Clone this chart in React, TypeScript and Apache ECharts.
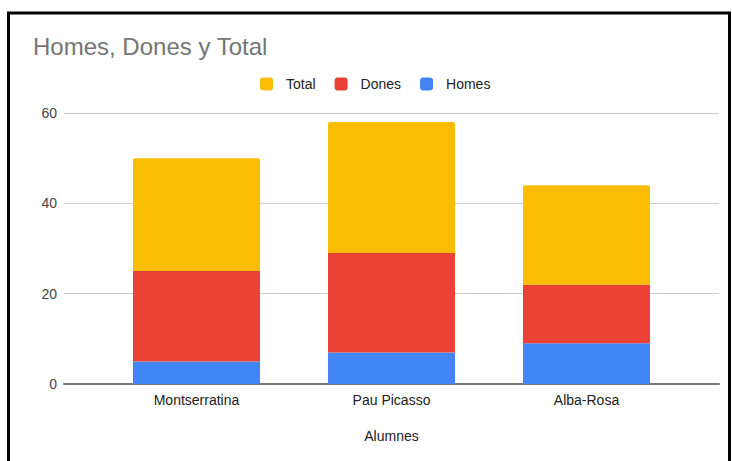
import React, { useEffect, useRef } from "react";
import * as echarts from "echarts";

const categories = ["Montserratina", "Pau Picasso", "Alba-Rosa"];
const homes = [5, 7, 9];
const dones = [20, 22, 13];
const total = [25, 29, 22];
const yTicks = { min: 0, max: 60, interval: 20 };

const FONT = "'Liberation Sans', Arial, sans-serif";

export default function App() {
  const ref = useRef<HTMLDivElement>(null);
  useEffect(() => {
    if (!ref.current) return;
    const chart = echarts.init(ref.current, null, { renderer: "svg" });
    chart.setOption({
      animation: false,
      backgroundColor: "#ffffff",
      textStyle: { fontFamily: FONT },
      title: {
        text: "Homes, Dones y Total",
        left: 33,
        top: 34,
        padding: 0,
        textStyle: { fontFamily: FONT, fontSize: 24, fontWeight: "normal", color: "#757575" },
      },
      legend: {
        data: ["Total", "Dones", "Homes"],
        left: 260,
        top: 77,
        padding: 0,
        icon: "roundRect",
        itemWidth: 13,
        itemHeight: 13,
        itemGap: 19,
        textStyle: { fontFamily: FONT, fontSize: 14, color: "#222", padding: [0, 0, 0, 8] },
      },
      grid: [
        { left: 64, right: 13, top: 113, bottom: 77 },
        { left: 99, right: 48, top: 113, bottom: 77 },
      ],
      xAxis: [
        {
          gridIndex: 0,
          type: "value",
          min: 0,
          max: 1,
          axisLine: { show: true, lineStyle: { color: "#777", width: 2 } },
          axisTick: { show: false },
          axisLabel: { show: false },
          splitLine: { show: false },
        },
        {
          gridIndex: 1,
          type: "category",
          data: categories,
          axisLine: { show: false },
          axisTick: { show: false },
          axisLabel: { fontFamily: FONT, fontSize: 14, color: "#222", margin: 9 },
          name: "Alumnes",
          nameLocation: "middle",
          nameGap: 45,
          nameTextStyle: { fontFamily: FONT, fontSize: 14, color: "#222" },
        },
      ],
      yAxis: [
        {
          gridIndex: 0,
          type: "value",
          min: yTicks.min,
          max: yTicks.max,
          interval: yTicks.interval,
          axisLine: { show: false },
          axisTick: { show: false },
          axisLabel: { fontFamily: FONT, fontSize: 14, color: "#444", margin: 7 },
          splitLine: { lineStyle: { color: "#cccccc", width: 1 } },
        },
        {
          gridIndex: 1,
          type: "value",
          min: yTicks.min,
          max: yTicks.max,
          interval: yTicks.interval,
          show: false,
          splitLine: { show: false },
        },
      ],
      series: [
        {
          name: "Homes",
          type: "bar",
          stack: "s",
          xAxisIndex: 1,
          yAxisIndex: 1,
          barWidth: 127,
          data: homes,
          itemStyle: { color: "#4285F4" },
        },
        {
          name: "Dones",
          type: "bar",
          stack: "s",
          xAxisIndex: 1,
          yAxisIndex: 1,
          barWidth: 127,
          data: dones,
          itemStyle: { color: "#EA4335" },
        },
        {
          name: "Total",
          type: "bar",
          stack: "s",
          xAxisIndex: 1,
          yAxisIndex: 1,
          barWidth: 127,
          data: total,
          itemStyle: { color: "#FBBC04", borderRadius: [2, 2, 0, 0] },
        },
      ],
      graphic: [
        {
          type: "rect",
          silent: true,
          z: 100,
          shape: { x: 8.5, y: 13, width: 721, height: 520 },
          style: { fill: "none", stroke: "#000", lineWidth: 3 },
        },
      ],
    });
    return () => chart.dispose();
  }, []);
  return (
    <div
      ref={ref}
      style={{ position: "absolute", left: 0, top: 0, width: 732, height: 461 }}
    />
  );
}
